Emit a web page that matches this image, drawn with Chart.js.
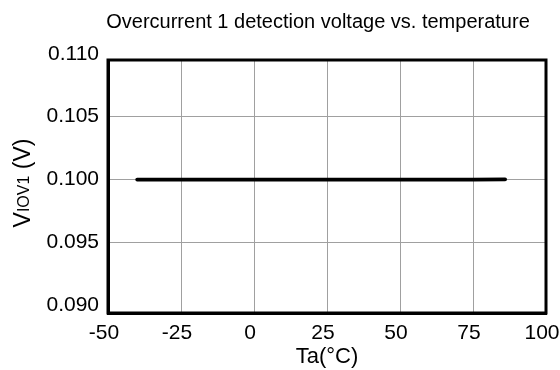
<!DOCTYPE html>
<html>
<head>
<meta charset="utf-8">
<script src="https://cdn.jsdelivr.net/npm/chart.js@4"></script>
<style>
  html, body { margin: 0; padding: 0; background: #fff; }
  #wrap { width: 560px; height: 370px; }
</style>
</head>
<body>
<div id="wrap"><canvas id="c" width="560" height="370"></canvas></div>
<script>
// Measured detection voltage across ambient temperature
const temperatures = [-40, -25, -10, 0, 25, 50, 57, 75, 86];
const voltages = [0.1000, 0.1000, 0.1000, 0.1000, 0.1000, 0.1000, 0.1000, 0.1000, 0.10002];
const xTicks = [-50, -25, 0, 25, 50, 75, 100];
const yTicks = [0.090, 0.095, 0.100, 0.105, 0.110];
// The plotted frame sits slightly below the labelled voltage grid
const yRange = [0.0894, 0.1095];

const FONT = '"Liberation Sans", Arial, sans-serif';

// Title above the plot and the rotated Y axis label with subscript
const annotations = {
  id: 'annotations',
  afterDraw(chart) {
    const ctx = chart.ctx;
    ctx.save();
    ctx.fillStyle = '#000';
    ctx.font = '20px ' + FONT;
    ctx.textAlign = 'center';
    ctx.textBaseline = 'middle';
    ctx.fillText('Overcurrent 1 detection voltage vs. temperature', 318, 22);

    // Y axis title: V with subscript IOV1, then (V)
    ctx.translate(30, 183);
    ctx.rotate(-Math.PI / 2);
    ctx.textBaseline = 'alphabetic';
    const parts = [
      { t: 'V', f: '23px ' + FONT, dy: 0 },
      { t: 'IOV1', f: '16px ' + FONT, dy: -1 },
      { t: ' (V)', f: '23px ' + FONT, dy: 0 }
    ];
    let total = 0;
    parts.forEach(p => { ctx.font = p.f; p.w = ctx.measureText(p.t).width; total += p.w; });
    let x = -total / 2;
    ctx.textAlign = 'left';
    parts.forEach(p => { ctx.font = p.f; ctx.fillText(p.t, x, p.dy); x += p.w; });
    ctx.restore();
  }
};

// Heavy black frame round the plot area
const frame = {
  id: 'frame',
  afterDatasetsDraw(chart) {
    const { ctx, chartArea: a } = chart;
    ctx.save();
    ctx.strokeStyle = '#000';
    ctx.lineWidth = 3;
    ctx.strokeRect(a.left, a.top, a.right - a.left, a.bottom - a.top);
    ctx.restore();
  }
};

const gridColor = ctx => {
  const v = ctx.tick && ctx.tick.value;
  if (v === undefined) return '#a0a0a0';
  return (v < yRange[0] + 0.0007 || v > yRange[1]) ? 'rgba(0,0,0,0)' : '#a0a0a0';
};

new Chart(document.getElementById('c'), {
  type: 'scatter',
  data: {
    datasets: [{
      data: temperatures.map((t, i) => ({ x: t, y: voltages[i] })),
      showLine: true,
      borderColor: '#000',
      borderWidth: 3.8,
      pointRadius: 0,
      tension: 0,
      borderCapStyle: 'round',
      clip: false
    }]
  },
  options: {
    responsive: false,
    animation: false,
    layout: { padding: { top: 60, right: 14, left: 0, bottom: 0 } },
    plugins: { legend: { display: false }, tooltip: { enabled: false } },
    scales: {
      x: {
        type: 'linear',
        min: -50, max: 100,
        afterBuildTicks(scale) { scale.ticks = xTicks.map(v => ({ value: v })); },
        afterFit(scale) { scale.height = 57; scale.paddingLeft = 0; scale.paddingRight = 0; },
        grid: { color: '#a0a0a0', lineWidth: 1, drawTicks: false },
        border: { color: '#000', width: 3 },
        ticks: { color: '#000', font: { family: FONT, size: 21 }, padding: 8, maxRotation: 0, labelOffset: -4 },
        title: { display: true, text: 'Ta(°C)', color: '#000', font: { family: FONT, size: 22 }, padding: { top: 0, bottom: 0 } }
      },
      y: {
        min: yRange[0], max: yRange[1],
        afterBuildTicks(scale) { scale.ticks = yTicks.map(v => ({ value: v })); },
        afterFit(scale) { scale.width = 108; scale.paddingTop = 0; scale.paddingBottom = 0; },
        grid: { color: gridColor, lineWidth: 1, drawTicks: false },
        border: { color: '#000', width: 3 },
        ticks: { color: '#000', font: { family: FONT, size: 21 }, padding: 9, autoSkip: false, callback: v => v.toFixed(3) }
      }
    }
  },
  plugins: [annotations, frame]
});
</script>
</body>
</html>
